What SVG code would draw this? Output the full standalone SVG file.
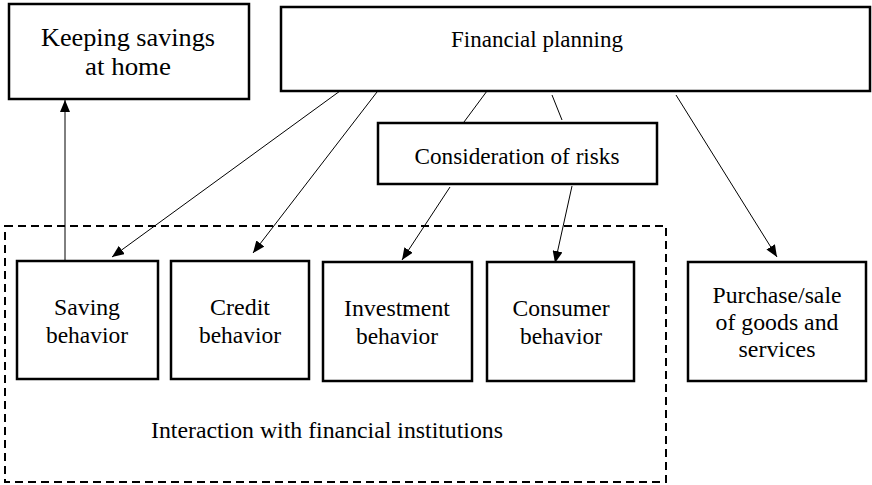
<svg xmlns="http://www.w3.org/2000/svg" width="872" height="485" viewBox="0 0 872 485">
  <style>
    .box { fill: #fff; stroke: #000; stroke-width: 2.5; }
    .group { fill: none; stroke: #000; stroke-width: 2; stroke-dasharray: 8 5; }
    .link { fill: none; stroke: #000; stroke-width: 1; }
    text { font-family: "Liberation Serif", "Times New Roman", serif; font-size: 23.5px; fill: #000; text-anchor: middle; }
    .big { font-size: 25px; }
  </style>
  <defs>
    <marker id="arrow" viewBox="0 0 12 10" refX="12" refY="5" markerWidth="12" markerHeight="10" markerUnits="userSpaceOnUse" orient="auto">
      <path d="M0,0 L12,5 L0,10 z" fill="#000"/>
    </marker>
  </defs>

  <!-- dashed frame: interaction with financial institutions -->
  <g id="institutions">
    <rect class="group" x="5" y="226" width="661" height="256"/>
    <text x="327" y="438" textLength="352" lengthAdjust="spacingAndGlyphs">Interaction with financial institutions</text>
  </g>

  <g id="keeping-savings">
    <rect class="box" x="9" y="4" width="240" height="95"/>
    <text class="big" x="128" y="46" textLength="174" lengthAdjust="spacingAndGlyphs">Keeping savings</text>
    <text class="big" x="128" y="75" textLength="86" lengthAdjust="spacingAndGlyphs">at home</text>
  </g>

  <g id="financial-planning">
    <rect class="box" x="281" y="7" width="589" height="84"/>
    <text x="537" y="47" textLength="172" lengthAdjust="spacingAndGlyphs">Financial planning</text>
  </g>

  <g id="risks">
    <rect class="box" x="378" y="123" width="279" height="61"/>
    <text x="517" y="164" textLength="205" lengthAdjust="spacingAndGlyphs">Consideration of risks</text>
  </g>

  <g id="saving">
    <rect class="box" x="17" y="261" width="141" height="118"/>
    <text x="87" y="315" textLength="66" lengthAdjust="spacingAndGlyphs">Saving</text>
    <text x="87" y="343" textLength="82" lengthAdjust="spacingAndGlyphs">behavior</text>
  </g>

  <g id="credit">
    <rect class="box" x="171" y="261" width="138" height="118"/>
    <text x="240" y="315" textLength="60" lengthAdjust="spacingAndGlyphs">Credit</text>
    <text x="240" y="343" textLength="82" lengthAdjust="spacingAndGlyphs">behavior</text>
  </g>

  <g id="investment">
    <rect class="box" x="323" y="262" width="149" height="119"/>
    <text x="397" y="316" textLength="106" lengthAdjust="spacingAndGlyphs">Investment</text>
    <text x="397" y="344" textLength="82" lengthAdjust="spacingAndGlyphs">behavior</text>
  </g>

  <g id="consumer">
    <rect class="box" x="487" y="262" width="147" height="119"/>
    <text x="561" y="316" textLength="97" lengthAdjust="spacingAndGlyphs">Consumer</text>
    <text x="561" y="344" textLength="82" lengthAdjust="spacingAndGlyphs">behavior</text>
  </g>

  <g id="purchase">
    <rect class="box" x="688" y="262" width="178" height="119"/>
    <text x="777" y="303" textLength="129" lengthAdjust="spacingAndGlyphs">Purchase/sale</text>
    <text x="777" y="330" textLength="123" lengthAdjust="spacingAndGlyphs">of goods and</text>
    <text x="777" y="357" textLength="77" lengthAdjust="spacingAndGlyphs">services</text>
  </g>

  <g id="connectors">
    <line class="link" x1="65" y1="261" x2="65" y2="100" marker-end="url(#arrow)"/>
    <line class="link" x1="340" y1="91" x2="112" y2="257" marker-end="url(#arrow)"/>
    <line class="link" x1="377" y1="92" x2="253" y2="253" marker-end="url(#arrow)"/>
    <line class="link" x1="487" y1="91" x2="464" y2="122"/>
    <line class="link" x1="552" y1="95" x2="562" y2="120"/>
    <line class="link" x1="676" y1="95" x2="777" y2="257" marker-end="url(#arrow)"/>
    <line class="link" x1="450" y1="187" x2="402" y2="260" marker-end="url(#arrow)"/>
    <line class="link" x1="572" y1="186" x2="555" y2="263" marker-end="url(#arrow)"/>
  </g>
</svg>
